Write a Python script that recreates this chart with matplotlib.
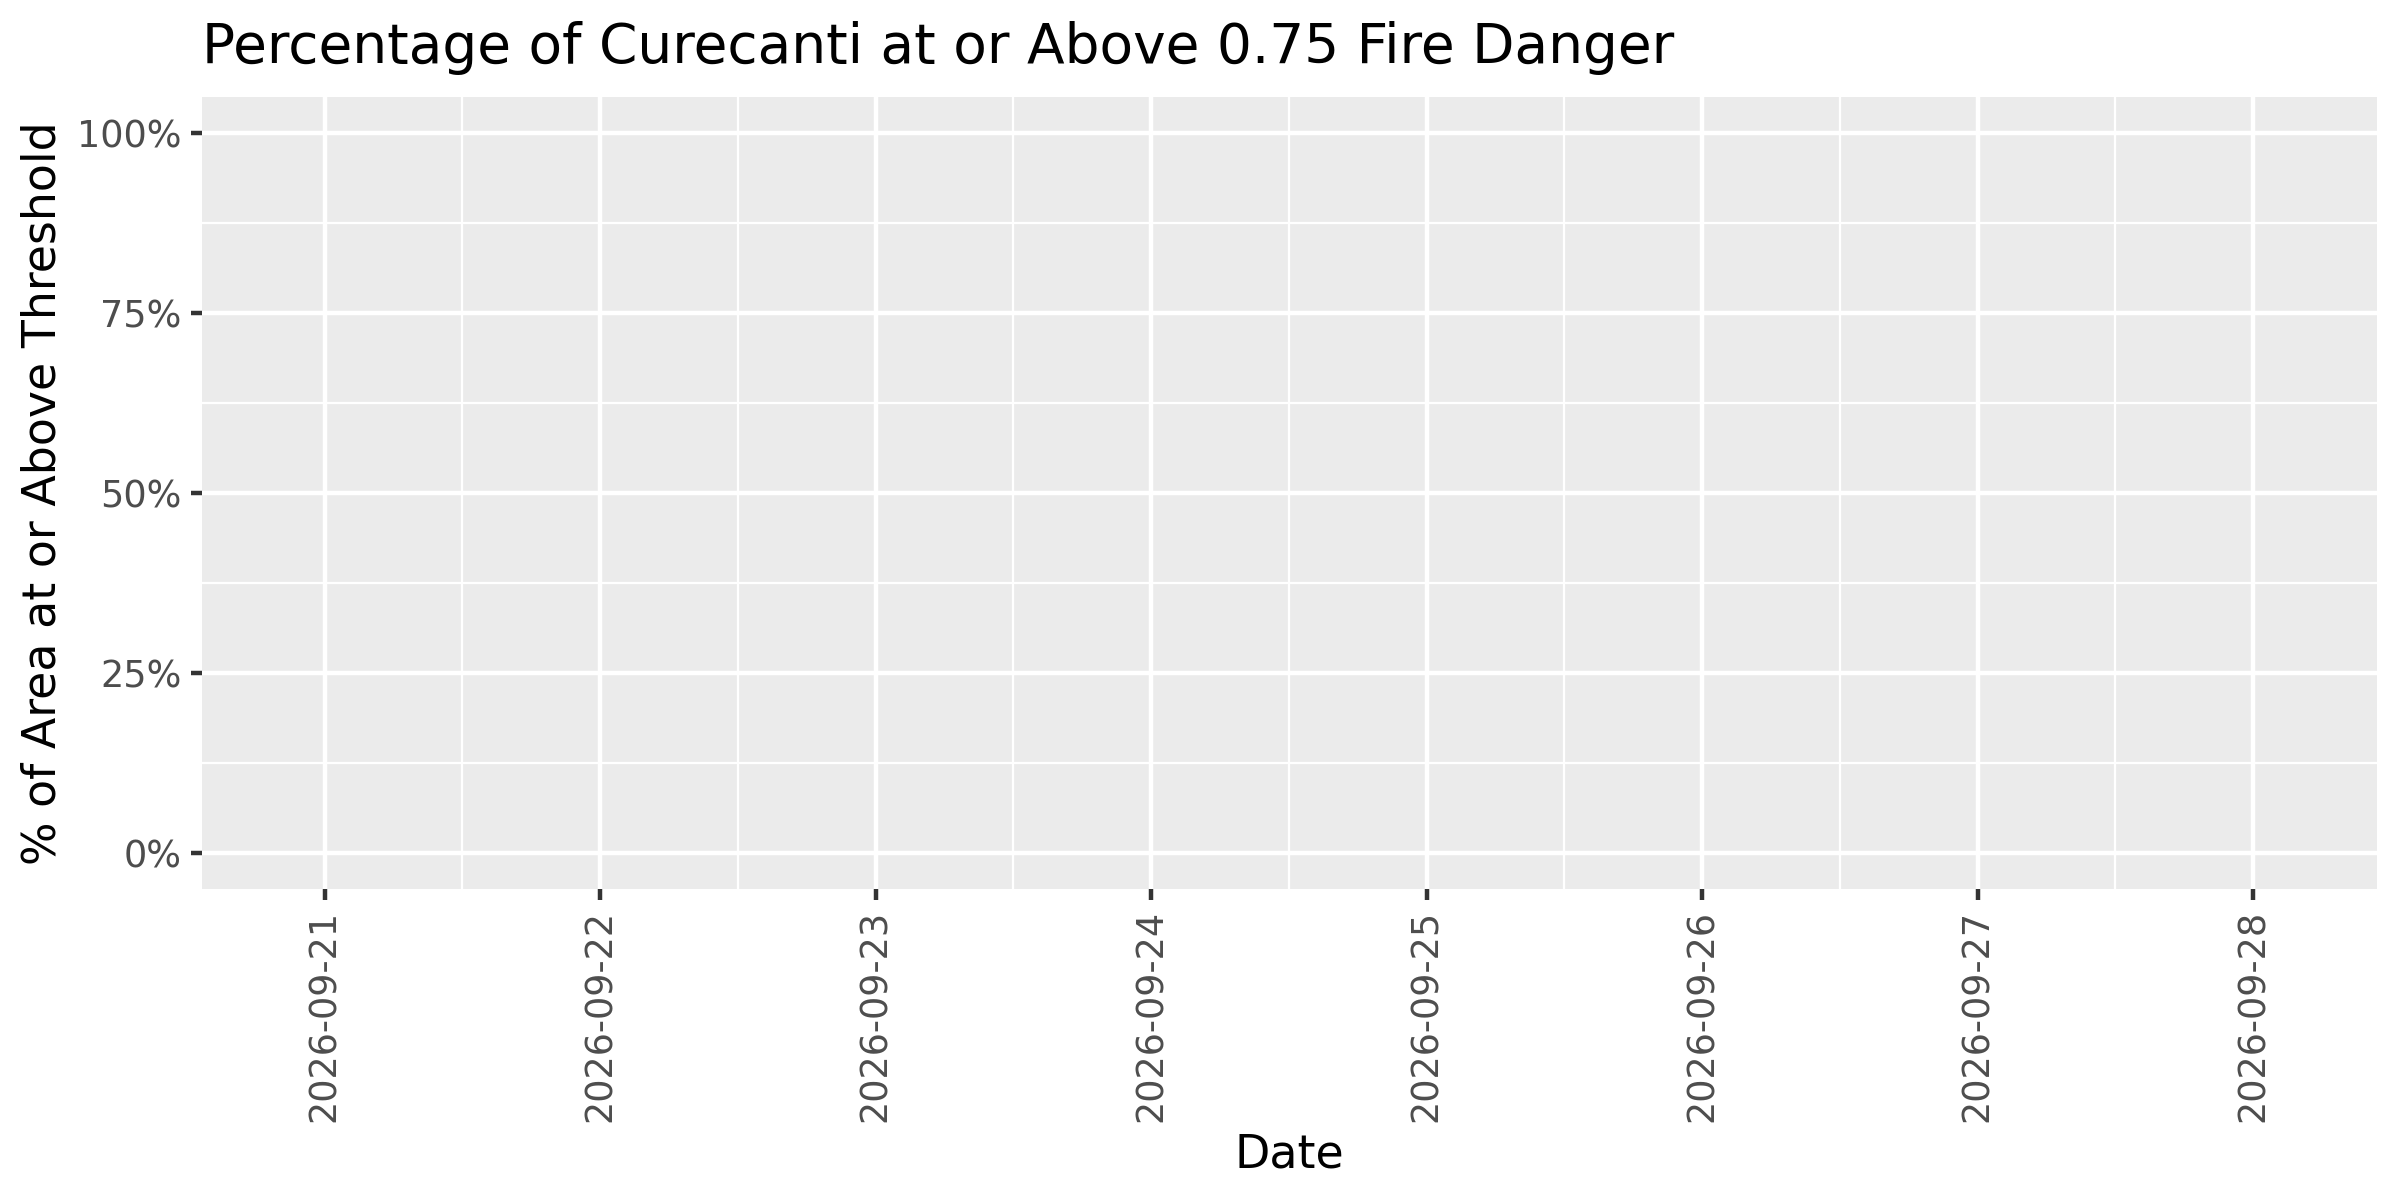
import numpy as np
import matplotlib
matplotlib.use("Agg")
import matplotlib.pyplot as plt
import matplotlib.dates as mdates
from matplotlib.ticker import FixedLocator, FuncFormatter

# data (the chart has no visible series: every value is missing)
dates = np.array(["2026-09-21", "2026-09-22", "2026-09-23", "2026-09-24",
                  "2026-09-25", "2026-09-26", "2026-09-27", "2026-09-28"], dtype="datetime64[D]")
pct_above = [None, None, None, None, None, None, None, None]
y_breaks = [0, 25, 50, 75, 100]

title = "Percentage of Curecanti at or Above 0.75 Fire Danger"
xlab = "Date"
ylab = "% of Area at or Above Threshold"

plt.rcParams["font.family"] = ["DejaVu Sans"]

fig = plt.figure(figsize=(8, 4), dpi=300)
ax = fig.add_axes([0.0842, 0.2592, 0.9062, 0.6600])
ax.set_facecolor("#EBEBEB")
for s in ax.spines.values():
    s.set_visible(False)

x = mdates.date2num(dates.astype("datetime64[s]").astype(object))
y = np.array([np.nan if v is None else v for v in pct_above], dtype=float)
ax.plot(x, y, color="#F8766D", lw=1.07)

ax.set_xlim(x[0] - 0.445, x[-1] + 0.45)
ax.set_ylim(-5, 105)

ax.xaxis.set_major_locator(FixedLocator(x))
ax.xaxis.set_minor_locator(FixedLocator((x[:-1] + x[1:]) / 2))
ax.xaxis.set_major_formatter(FuncFormatter(lambda v, p: mdates.num2date(v).strftime("%Y-%m-%d")))
ax.yaxis.set_major_locator(FixedLocator(y_breaks))
ax.yaxis.set_minor_locator(FixedLocator([12.5, 37.5, 62.5, 87.5]))
ax.yaxis.set_major_formatter(FuncFormatter(lambda v, p: f"{v:.0f}%"))

ax.grid(True, which="major", color="white", lw=1.07)
ax.grid(True, which="minor", color="white", lw=0.53)
ax.set_axisbelow(True)

ax.tick_params(which="major", length=2.75, width=1.07, color="#333333",
               labelsize=8.8, labelcolor="#4D4D4D", pad=2.2)
ax.tick_params(which="minor", length=0)
for lab in ax.get_xticklabels():
    lab.set_rotation(90)
    lab.set_ha("center")
    lab.set_va("top")

fig.text(202 / 2400, 1 - 63 / 1200, title, fontsize=13.2, ha="left", va="baseline")
fig.text(1289.5 / 2400, 1 - 1168 / 1200, xlab, fontsize=11, ha="center", va="baseline")
fig.text(66 / 2400, 1 - 493 / 1200, ylab, fontsize=11, rotation=90, ha="right", va="center")

fig.savefig("out.png", dpi=300)
